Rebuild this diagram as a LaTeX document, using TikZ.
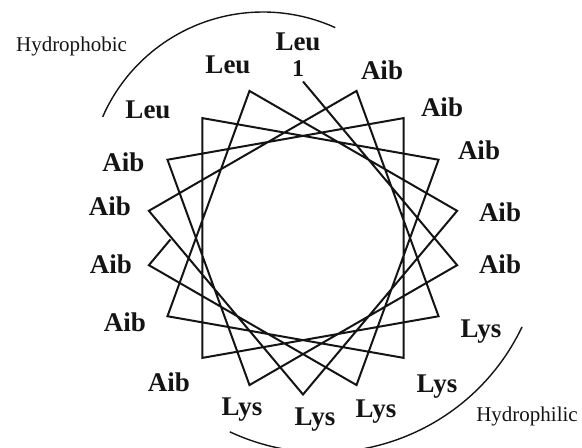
\documentclass[tikz,border=0pt]{standalone}
\usepackage{fontspec}
\setmainfont{Liberation Serif}
\usepackage{xcolor}
\usepackage{tikz}
\usetikzlibrary{calc}
\definecolor{ink}{RGB}{20,20,20}
\tikzset{
  residue/.style   = {inner sep=0pt, align=center, text=ink,
                      font=\fontsize{13.5}{13}\selectfont\bfseries},
  zonelabel/.style = {inner sep=0pt, text=ink,
                      font=\fontsize{10.5}{12}\selectfont},
  wheel/.style     = {line width=1pt, draw=ink, line join=miter},
  zone/.style      = {line width=0.7pt, draw=ink},
}

\begin{document}
\begin{tikzpicture}[x=0.5pt, y=0.5pt]
  \useasboundingbox (0,0) rectangle (582,448);
  \coordinate (c) at (303,210);
  \coordinate (phob) at (263,261);
  \coordinate (phil) at (323,216);

  % helix positions, 100 degrees per residue
  \foreach \i in {1,...,18}
    \coordinate (v\i) at ($(c)+({190-100*\i}:156.5)$);

  \draw[wheel] (v1) \foreach \i in {2,...,18} {-- (v\i)} -- ($(v18)!0.14!(v1)$);

  \node[residue] (res1)  at ($(c)+(-5,183)$)     {Leu\\{\fontsize{12}{12}\selectfont 1}};
  \node[residue] (res2)  at ($(c)+(197,-26)$)    {Aib};
  \node[residue] (res3)  at ($(c)+(-61,-172)$)   {Lys};
  \node[residue] (res4)  at ($(c)+(-179.5,76)$)  {Aib};
  \node[residue] (res5)  at ($(c)+(139,131)$)    {Aib};
  \node[residue] (res6)  at ($(c)+(134,-149)$)   {Lys};
  \node[residue] (res7)  at ($(c)+(-178,-84)$)   {Aib};
  \node[residue] (res8)  at ($(c)+(-75,173)$)    {Leu};
  \node[residue] (res9)  at ($(c)+(197,26)$)     {Aib};
  \node[residue] (res10) at ($(c)+(12,-182)$)    {Lys};
  \node[residue] (res11) at ($(c)+(-193,32)$)    {Aib};
  \node[residue] (res12) at ($(c)+(79,168)$)     {Aib};
  \node[residue] (res13) at ($(c)+(178,-94)$)    {Lys};
  \node[residue] (res14) at ($(c)+(-134,-144)$)  {Aib};
  \node[residue] (res15) at ($(c)+(-155,128)$)   {Leu};
  \node[residue] (res16) at ($(c)+(176,88)$)     {Aib};
  \node[residue] (res17) at ($(c)+(73,-174)$)    {Lys};
  \node[residue] (res18) at ($(c)+(-192,-26)$)   {Aib};

  % faces of the helix
  \draw[zone] ($(phob)+(156.4:175)$) arc[start angle=156.4, end angle=65.6, radius=175];
  \draw[zone] ($(phil)+(-25.5:220.5)$) arc[start angle=-25.5, end angle=-115, radius=220.5];
  \node[zonelabel] (phobic) at (71.5,401.5) {Hydrophobic};
  \node[zonelabel] (philic) at (527,32)     {Hydrophilic};
\end{tikzpicture}
\end{document}
